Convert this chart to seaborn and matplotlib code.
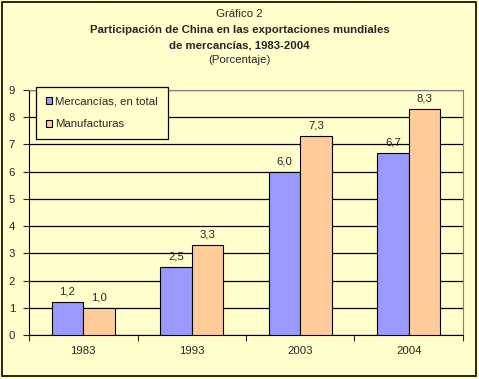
import pandas as pd
import matplotlib.pyplot as plt
import seaborn as sns
from matplotlib.patches import Rectangle

# Datos
years = ['1983', '1993', '2003', '2004']
mercancias = [1.2, 2.5, 6.0, 6.7]
manufacturas = [1.0, 3.3, 7.3, 8.3]
series = ['Mercancías, en total', 'Manufacturas']

df = pd.DataFrame({
    'Año': years * 2,
    'Serie': [series[0]] * 4 + [series[1]] * 4,
    'Valor': mercancias + manufacturas,
})

bg = '#FFFFCC'
sns.set_style('white')
plt.rcParams['font.family'] = ['Liberation Sans', 'DejaVu Sans']
plt.rcParams['font.size'] = 8.2

fig = plt.figure(figsize=(4.79, 3.79), dpi=100, facecolor=bg)
fig.patches.append(Rectangle((0.004, 0.008), 0.99, 0.987, transform=fig.transFigure,
                             fill=False, edgecolor='black', linewidth=1.2))
ax = fig.add_axes([29 / 479, 1 - 335 / 379, 434 / 479, 245 / 379])
ax.set_facecolor(bg)

sns.barplot(data=df, x='Año', y='Valor', hue='Serie', palette=['#9999FF', '#FFCC99'],
            width=0.58, edgecolor='black', linewidth=0.8, saturation=1, ax=ax, zorder=3)

for cont in ax.containers:
    ax.bar_label(cont, labels=[f'{v:.1f}'.replace('.', ',') for v in cont.datavalues],
                 padding=4, fontsize=8.2)

ax.set_ylim(0, 9)
ax.set_xlim(-0.5, 3.5)
ax.set_yticks(range(10))
ax.yaxis.grid(True, color='black', linewidth=0.9, zorder=0)
ax.set_axisbelow(True)
ax.set_xticks([-0.5, 0.5, 1.5, 2.5, 3.5])
ax.set_xticklabels([])
ax.set_xticks(range(4), minor=True)
ax.set_xticklabels(years, minor=True)
ax.tick_params(axis='x', which='major', length=4, width=0.8, direction='out', bottom=True)
ax.tick_params(axis='x', which='minor', length=0, pad=8)
ax.tick_params(axis='y', length=4, width=0.8, direction='out', left=True, pad=6)
ax.set_xlabel('')
ax.set_ylabel('')

for s in ['top', 'right']:
    ax.spines[s].set_color('#808080')
for s in ['left', 'bottom']:
    ax.spines[s].set_color('black')

leg = ax.legend(loc='upper left', bbox_to_anchor=(0.016, 1.012), borderaxespad=0,
                frameon=True, fancybox=False,
                handlelength=0.6, handleheight=0.6, handletextpad=0.25, labelspacing=1.1,
                borderpad=0.85, fontsize=8.2)
leg.get_frame().set_facecolor(bg)
leg.get_frame().set_edgecolor('black')
leg.get_frame().set_linewidth(0.9)
leg.get_frame().set_alpha(1)

fig.text(0.5, 1 - 14 / 379, 'Gráfico 2', ha='center', va='center')
fig.text(0.5, 1 - 30 / 379, 'Participación de China en las exportaciones mundiales',
         ha='center', va='center', fontweight='bold')
fig.text(0.5, 1 - 45 / 379, 'de mercancías, 1983-2004', ha='center', va='center',
         fontweight='bold')
fig.text(0.5, 1 - 60 / 379, '(Porcentaje)', ha='center', va='center')

plt.savefig('out.png', facecolor=bg)
